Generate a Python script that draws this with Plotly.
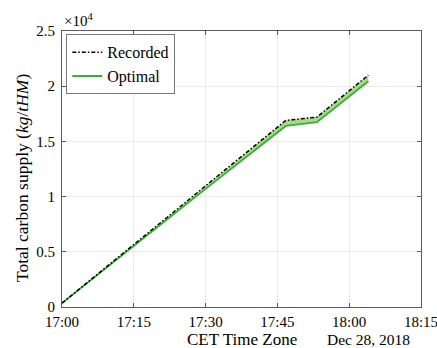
import plotly.graph_objects as go

# Cumulative carbon supply, Dec 28 2018 (kg/tHM)
times = ["2018-12-28 17:00:00", "2018-12-28 17:15:00", "2018-12-28 17:30:00",
         "2018-12-28 17:46:45", "2018-12-28 17:53:15", "2018-12-28 18:04:00"]
recorded = [350, 5650, 10950, 16900, 17200, 21000]
optimal = [350, 5550, 10700, 16400, 16750, 20450]

x_ticks = ["2018-12-28 17:00", "2018-12-28 17:15", "2018-12-28 17:30",
           "2018-12-28 17:45", "2018-12-28 18:00", "2018-12-28 18:15"]
y_ticks = [0, 5000, 10000, 15000, 20000, 25000]
y_ticktext = ["0", "0.5", "1", "1.5", "2", "2.5"]

FONT = "Liberation Serif"
GREEN = "rgb(52,178,52)"
FILL = "rgba(150,205,110,0.8)"

fig = go.Figure()

# shaded band between the two curves
fig.add_trace(go.Scatter(x=times, y=optimal, mode="lines", line=dict(width=0),
                         showlegend=False, hoverinfo="skip"))
fig.add_trace(go.Scatter(x=times, y=recorded, mode="lines", line=dict(width=0),
                         fill="tonexty", fillcolor=FILL,
                         showlegend=False, hoverinfo="skip"))

fig.add_trace(go.Scatter(x=times, y=optimal, mode="lines", name="Optimal",
                         line=dict(color=GREEN, width=1.8)))
fig.add_trace(go.Scatter(x=times, y=recorded, mode="lines", name="Recorded",
                         line=dict(color="black", width=1.5, dash="4px,2px,1.5px,2px")))

axis_common = dict(
    showgrid=True, gridcolor="rgb(235,235,235)", gridwidth=1,
    showline=True, linecolor="rgb(90,90,90)", linewidth=1, mirror="ticks",
    ticks="inside", ticklen=4, tickcolor="rgb(90,90,90)",
    tickfont=dict(family=FONT, size=15, color="black"),
    zeroline=False, automargin=False, ticklabeloverflow="allow",
)

fig.update_layout(
    width=437, height=348,
    margin=dict(l=62, r=16, t=31, b=41),
    plot_bgcolor="white", paper_bgcolor="white",
    font=dict(family=FONT, color="black"),
    xaxis=dict(type="date", range=[x_ticks[0], x_ticks[-1]],
               tickvals=x_ticks, tickformat="%H:%M", ticklabelstandoff=1,
               **axis_common),
    yaxis=dict(range=[0, 25000], tickvals=y_ticks, ticktext=y_ticktext,
               ticklabelstandoff=3, **axis_common),
    legend=dict(x=0.012, y=0.988, xanchor="left", yanchor="top",
                bgcolor="white", bordercolor="rgb(120,120,120)", borderwidth=1,
                font=dict(family=FONT, size=16), traceorder="reversed",
                tracegroupgap=0, itemwidth=30),
    showlegend=True,
)

fig.add_annotation(text="CET Time Zone", xref="paper", yref="paper",
                   x=0.5, y=0, xanchor="center", yanchor="middle", yshift=-32,
                   showarrow=False, font=dict(family=FONT, size=17, color="black"))
fig.add_annotation(text="Total carbon supply (<i>kg</i>/<i>tHM</i>)",
                   xref="paper", yref="paper", x=0, y=0.5, xshift=-40, yshift=-9,
                   xanchor="center", yanchor="middle",
                   textangle=-90, showarrow=False,
                   font=dict(family=FONT, size=17.5, color="black"))
fig.add_annotation(text="×10<sup>4</sup>", xref="paper", yref="paper",
                   x=0, y=1, xanchor="left", yanchor="bottom", yshift=0,
                   showarrow=False, font=dict(family=FONT, size=15, color="black"))
fig.add_annotation(text="Dec 28, 2018", xref="paper", yref="paper",
                   x=0.855, y=0, xanchor="center", yanchor="middle", yshift=-32,
                   showarrow=False, font=dict(family=FONT, size=15.5, color="black"))

fig.write_html("out.html")
